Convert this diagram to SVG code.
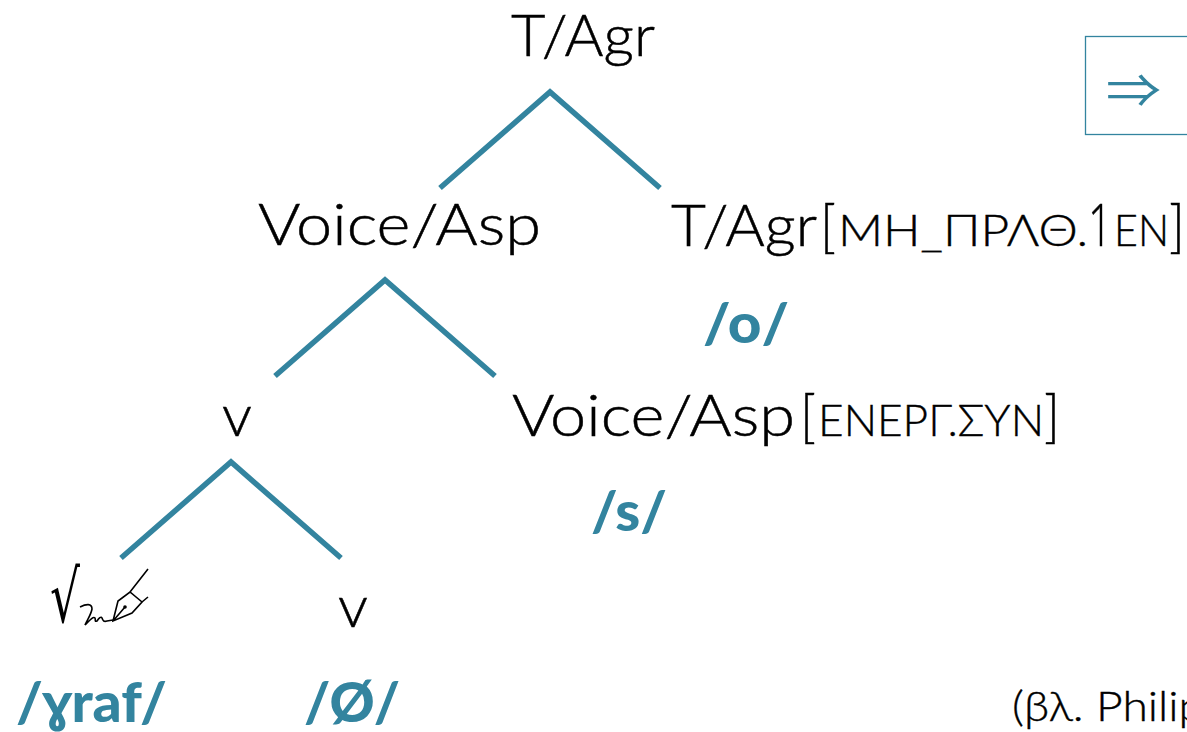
<svg xmlns="http://www.w3.org/2000/svg" width="1187" height="732" viewBox="0 0 1187 732">
<style>
text{font-family:"Lato","Open Sans","Liberation Sans",sans-serif;fill:#000}
.n{font-size:58px;font-weight:300;stroke:#000;stroke-width:.5}
.s{font-size:43px;font-weight:300;stroke:#000;stroke-width:.4}
.m{font-size:56px;font-weight:900;fill:#33849f}
.c{fill:none;stroke:#33849f;stroke-width:5.500}
.p{fill:none;stroke:#000;stroke-width:1.600}
</style>
<rect width="1187" height="732" fill="#fff"/>
<g id="connectors">
<path class="c" d="M440 188L550 92L660 188"/>
<path class="c" d="M275 376L385 280L495 376"/>
<path class="c" d="M121 558L231 462L341 558"/>
</g>
<g id="node-root"><text class="n" x="511" y="56" textLength="144" lengthAdjust="spacingAndGlyphs">T/Agr</text></g>
<g id="node-voice"><text class="n" x="258" y="245" textLength="283" lengthAdjust="spacingAndGlyphs">Voice/Asp</text></g>
<g id="node-tagr"><text y="246" class="n"><tspan x="671" textLength="146" lengthAdjust="spacingAndGlyphs">T/Agr</tspan><tspan x="820" textLength="16" lengthAdjust="spacingAndGlyphs">[</tspan><tspan class="s" x="838" textLength="250" lengthAdjust="spacingAndGlyphs">ΜΗ_ΠΡΛΘ.</tspan><tspan x="1088" textLength="24" lengthAdjust="spacingAndGlyphs" style="font-family:'Open Sans',sans-serif">1</tspan><tspan class="s" x="1114" textLength="55" lengthAdjust="spacingAndGlyphs">ΕΝ</tspan><tspan x="1169" textLength="16" lengthAdjust="spacingAndGlyphs">]</tspan></text></g>
<g id="morph-o"><text class="m" x="703" y="343" textLength="86" lengthAdjust="spacingAndGlyphs">/o/</text></g>
<g id="node-v1"><text class="n" x="222" y="436" textLength="30" lengthAdjust="spacingAndGlyphs">v</text></g>
<g id="node-voice2"><text y="436" class="n"><tspan x="512" textLength="283" lengthAdjust="spacingAndGlyphs">Voice/Asp</tspan><tspan x="800" textLength="16" lengthAdjust="spacingAndGlyphs">[</tspan><tspan class="s" x="818" textLength="226" lengthAdjust="spacingAndGlyphs">ΕΝΕΡΓ.ΣΥΝ</tspan><tspan x="1044" textLength="16" lengthAdjust="spacingAndGlyphs">]</tspan></text></g>
<g id="morph-s"><text class="m" x="591" y="531" textLength="76" lengthAdjust="spacingAndGlyphs">/s/</text></g>
<g id="node-root-sign">
<text x="50" y="622" style="font-family:'DejaVu Sans',sans-serif;font-size:72px" textLength="30" lengthAdjust="spacingAndGlyphs">√</text>
<path class="p" d="M80 607C86 604 92 603 92 609C91 615 87 620 85 625C89 621 93 616 95 618C96 620 94 622 97 621C99 618 101 616 102 618C103 621 104 622 107 621L113 620"/>
<path class="p" d="M113 621L118 601L130 592L142 602L132 613ZM113 621L125 607M130 592L148 569M142 602L148 597"/>
<circle cx="125" cy="607" r="1.800"/>
</g>
<g id="node-v2"><text class="n" x="338" y="627" textLength="30" lengthAdjust="spacingAndGlyphs">v</text></g>
<g id="morph-graf"><text class="m" x="16" y="722" textLength="151" lengthAdjust="spacingAndGlyphs">/ɣraf/</text></g>
<g id="morph-null"><text class="m" x="304" y="722" textLength="96" lengthAdjust="spacingAndGlyphs">/Ø/</text></g>
<g id="citation"><text x="1012" y="721" style="font-size:42px;font-weight:300;stroke:#000;stroke-width:.4" textLength="192" lengthAdjust="spacingAndGlyphs">(βλ. Philip</text></g>
<g id="nav-button">
<rect x="1085.500" y="36.500" width="110" height="98" fill="#fff" stroke="#33849f" stroke-width="1.300"/>
<text x="1106" y="107" style="font-family:'Noto Sans CJK JP',sans-serif;font-size:46px;fill:#33849f" textLength="55" lengthAdjust="spacingAndGlyphs">⇒</text>
</g>
</svg>
